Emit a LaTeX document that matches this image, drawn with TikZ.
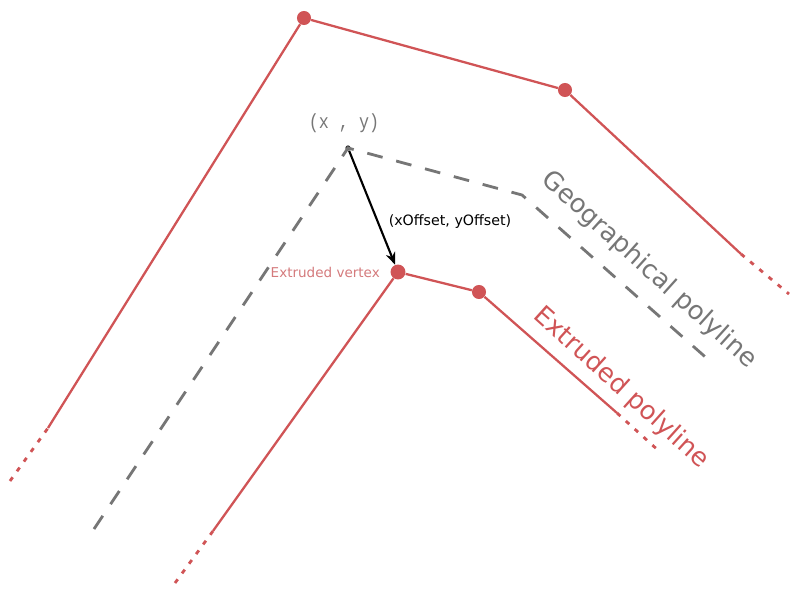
\documentclass[tikz,border=0pt]{standalone}
\usepackage{fontspec}
\setmainfont{DejaVu Sans}
\newfontfamily\xymono{Liberation Mono}
\usetikzlibrary{arrows.meta}
\definecolor{polyred}{RGB}{208,84,86}
\definecolor{vertexred}{RGB}{212,122,124}
\definecolor{geogray}{RGB}{118,118,118}

\begin{document}
\begin{tikzpicture}[
    x=0.02cm, y=-0.02cm,
    redline/.style={draw=polyred, line width=1.3pt},
    reddots/.style={draw=polyred, line width=1.6pt, dash pattern=on 2.6pt off 4.2pt},
    geoline/.style={draw=geogray, line width=1.6pt, dash pattern=on 9pt off 8pt},
    vertex/.style={circle, fill=polyred, inner sep=0pt, minimum size=8pt},
    origin/.style={circle, fill=black!80, inner sep=0pt, minimum size=3pt},
    bigtag/.style={font=\fontsize{14.6}{18}\selectfont, rotate=-42},
    >={Stealth[length=7pt, width=5.5pt]}
  ]
    \useasboundingbox (0,0) rectangle (793,590);

    % outer polyline
    \coordinate (outA) at (10,481);
    \coordinate (outB) at (48,428);
    \node[vertex] (outC) at (304,18) {};
    \node[vertex] (outD) at (565,90) {};
    \coordinate (outE) at (741,254);
    \coordinate (outF) at (789,294);
    \draw[reddots] (outA) -- (outB);
    \draw[redline] (outB) -- (outC) -- (outD) -- (outE);
    \draw[reddots] (outE) -- (outF);

    % geographical polyline
    \coordinate (geoA) at (94,529);
    \node[origin] (geoB) at (348,148) {};
    \coordinate (geoC) at (522,195);
    \coordinate (geoD) at (711,362);
    \draw[geoline] (geoA) -- (geoB.center) -- (geoC) -- (geoD);
    \node[text=geogray, font=\xymono\fontsize{11.6}{13}\selectfont, xscale=0.82] (xy) at (344,123) {(x , y)};

    % extruded polyline
    \coordinate (extA) at (175,583);
    \coordinate (extB) at (213,531);
    \node[vertex, minimum size=8.5pt] (extC) at (398,272) {};
    \node[vertex] (extD) at (479,292) {};
    \coordinate (extE) at (617,413);
    \coordinate (extF) at (660,452);
    \draw[reddots] (extA) -- (extB);
    \draw[redline] (extB) -- (extC) -- (extD) -- (extE);
    \draw[reddots] (extE) -- (extF);

    \draw[->, line width=1.2pt] (geoB) -- (extC);

    \node[font=\fontsize{8.1}{10}\selectfont] (offset) at (450,222) {(xOffset, yOffset)};
    \node[text=vertexred, font=\fontsize{7.7}{9}\selectfont, anchor=east] (extlabel) at (386,272) {Extruded vertex};
    \node[bigtag, text=geogray] (geolabel) at (649,270) {Geographical polyline};
    \node[bigtag, text=polyred] (polylabel) at (621,388) {Extruded polyline};
  \end{tikzpicture}
\end{document}
